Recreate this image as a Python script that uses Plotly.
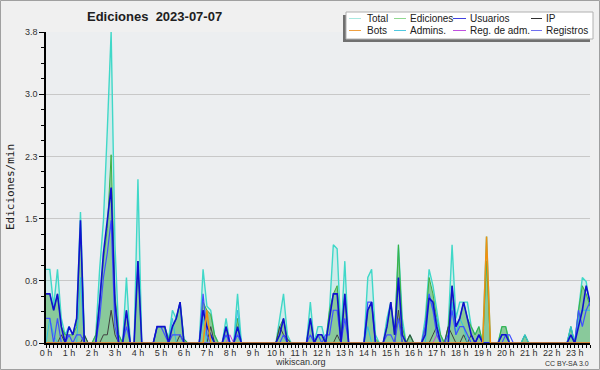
import plotly.graph_objects as go

# ---- data (10-minute samples, edits per minute) ----
minutes = list(range(0, 1430, 10))  # 00:00 .. 23:40
hour_ticks = list(range(24))
hour_labels = ["0 h", "1 h", "2 h", "3 h", "4 h", "5 h", "6 h", "7 h", "8 h", "9 h", "10 h", "11 h",
               "12 h", "13 h", "14 h", "15 h", "16 h", "17 h", "18 h", "19 h", "20 h", "21 h", "22 h", "23 h"]
y_tickvals = [0, 0.76, 1.52, 2.28, 3.04, 3.8]
y_ticktext = ["0.0", "0.8", "1.5", "2.3", "3.0", "3.8"]

total = [
    .9, .9, .45, .9, .3, .1,
    .2, .1, .3, 1.6, .1, 0,
    0, .1, .9, 1.5, 2.6, 3.8,
    1.2, .1, 0, .8, 0, 0,
    2.0, 0, 0, 0, 0, .2,
    .2, .2, .05, .4, .3, .5,
    .05, 0, 0, 0, 0, .9,
    .45, .4, .1, 0, 0, .3,
    0, 0, .6, 0, 0, 0,
    0, 0, 0, 0, 0, 0,
    0, .3, .6, .1, 0, 0,
    0, 0, 0, .5, 0, .2,
    .2, 0, .4, 1.2, 1.15, .1,
    1.0, 0, 0, 0, 0, 0,
    .8, .9, .1, 0, 0, .3,
    .5, .1, 1.2, .3, 0, .1,
    0, 0, 0, .3, .9, .7,
    .4, .1, 0, .2, 1.2, .3,
    .5, .5, .5, .2, .1, .2,
    0, 1.3, 0, 0, 0, .2,
    .2, 0, 0, 0, 0, .1,
    0, 0, 0, 0, 0, 0,
    0, 0, 0, 0, 0, .2,
    0, .4, .8, .75, .45,
]
ediciones = [
    .6, .6, .4, .6, .2, .1,
    .1, .1, .2, 1.4, .1, 0,
    0, .1, .5, 1.0, 1.4, 2.3,
    .6, .1, 0, .4, 0, 0,
    1.0, 0, 0, 0, 0, .2,
    .2, .2, .05, .2, .3, .5,
    .05, 0, 0, 0, 0, .5,
    .4, .35, .1, 0, 0, .2,
    0, 0, .3, 0, 0, 0,
    0, 0, 0, 0, 0, 0,
    0, .2, .3, .05, 0, 0,
    0, 0, 0, .3, 0, .1,
    .1, 0, .4, .6, .7, .1,
    .6, 0, 0, 0, 0, 0,
    .4, .5, .05, 0, 0, .2,
    .5, .1, 1.2, .2, 0, .1,
    0, 0, 0, .2, .8, .6,
    .3, .1, 0, .2, .7, .2,
    .3, .5, .3, .2, .1, .2,
    0, 1.0, 0, 0, 0, .2,
    .2, 0, 0, 0, 0, .1,
    0, 0, 0, 0, 0, 0,
    0, 0, 0, 0, 0, .2,
    0, .4, .7, .6, .45,
]
usuarios = [
    .6, .6, .4, .6, .2, 0,
    .2, .1, .3, 1.5, 0, 0,
    0, 0, .5, 1.1, 1.5, 1.9,
    .5, 0, 0, .4, 0, 0,
    1.0, 0, 0, 0, 0, .2,
    .2, .2, 0, .2, .3, .5,
    0, 0, 0, 0, 0, .4,
    .2, .1, 0, 0, 0, .2,
    0, 0, .2, 0, 0, 0,
    0, 0, 0, 0, 0, 0,
    0, .1, .3, 0, 0, 0,
    0, 0, 0, .3, 0, .1,
    .1, 0, .3, .6, .6, 0,
    .6, 0, 0, 0, 0, 0,
    .4, .5, 0, 0, 0, .2,
    .5, .1, .8, .1, 0, 0,
    0, 0, 0, .1, .55, .5,
    .2, 0, 0, 0, .7, .2,
    .3, .5, .3, .1, 0, .1,
    0, 0, 0, 0, 0, .1,
    .1, 0, 0, 0, 0, 0,
    0, 0, 0, 0, 0, 0,
    0, 0, 0, 0, 0, .1,
    0, .2, .4, .7, .5,
]
ip = [
    0, 0, 0, 0, .1, 0,
    0, 0, 0, 0, .1, 0,
    0, 0, 0, .1, .1, .4,
    .1, 0, 0, 0, 0, 0,
    0, 0, 0, 0, 0, 0,
    0, 0, 0, 0, 0, .1,
    0, 0, 0, 0, 0, 0,
    0, .2, 0, 0, 0, 0,
    0, 0, 0, 0, 0, 0,
    0, 0, 0, 0, 0, 0,
    0, .2, .1, .05, 0, 0,
    0, 0, 0, 0, 0, 0,
    0, 0, 0, 0, .1, 0,
    0, 0, 0, 0, 0, 0,
    0, 0, 0, 0, 0, 0,
    0, 0, .4, 0, 0, .1,
    0, 0, 0, 0, 0, .1,
    .2, 0, 0, .2, .1, 0,
    0, .1, 0, .1, 0, .1,
    0, 0, 0, 0, 0, 0,
    0, 0, 0, 0, 0, 0,
    0, 0, 0, 0, 0, 0,
    0, 0, 0, 0, 0, 0,
    0, 0, 0, 0, 0,
]
bots = [0] * 42 + [.4] + [0] * 72 + [1.3] + [0] * 27
admins = [
    0, .3, .1, 0, 0, 0,
    0, 0, 0, .8, 0, 0,
    0, 0, 0, 0, 0, 0,
    0, 0, 0, 0, 0, 0,
    0, 0, 0, 0, 0, 0,
    0, 0, 0, .3, 0, 0,
    0, 0, 0, 0, 0, .3,
    0, 0, 0, 0, 0, .1,
    0, 0, .4, 0, 0, 0,
    0, 0, 0, 0, 0, 0,
    0, 0, 0, 0, 0, 0,
    0, 0, 0, 0, 0, 0,
    0, 0, 0, 0, 0, 0,
    0, 0, 0, 0, 0, 0,
    .2, 0, 0, 0, 0, 0,
    0, 0, 0, 0, 0, 0,
    0, 0, 0, 0, .6, .4,
    .3, 0, 0, 0, .5, .1,
    .3, .2, 0, 0, 0, 0,
    0, 0, 0, 0, 0, .1,
    .1, 0, 0, 0, 0, .1,
    0, 0, 0, 0, 0, 0,
    0, 0, 0, 0, 0, .2,
    0, .3, .4, .4, .4,
]
reg_adm = [0] * 48 + [.1] + [0] * 53 + [.1] + [0] * 40
registros = [
    .3, .3, 0, .3, 0, 0,
    .1, 0, .1, .1, 0, 0,
    0, 0, .3, .8, 1.1, 1.5,
    .2, 0, 0, .2, 0, 0,
    0, 0, 0, 0, 0, .2,
    .2, .1, 0, .1, .1, .1,
    0, 0, 0, 0, 0, .6,
    .1, 0, 0, 0, 0, .1,
    0, 0, .1, 0, 0, 0,
    0, 0, 0, 0, 0, 0,
    0, 0, .1, 0, 0, 0,
    0, 0, 0, .1, 0, .1,
    0, .1, .1, .4, .4, 0,
    .3, 0, 0, 0, 0, 0,
    .5, .5, 0, 0, 0, .1,
    .1, 0, .3, 0, 0, 0,
    0, 0, 0, .2, .6, .4,
    .1, 0, 0, .1, .4, .1,
    .2, .2, .1, 0, 0, .1,
    0, 0, 0, 0, 0, 0,
    .1, .1, 0, 0, 0, 0,
    0, 0, 0, 0, 0, 0,
    0, 0, 0, 0, 0, 0,
    0, .4, .2, .4, .5,
]

legend_names = ["Total", "Ediciones", "Usuarios", "IP", "Bots", "Admins.", "Reg. de adm.", "Registros"]
legend_colors = ["#a8e8e0", "#90d890", "#4040e0", "#303030", "#f0a040", "#50c8e0", "#c050e0", "#7070f0"]

hours = [m / 60 for m in minutes]

W, H = 600, 370
L, R, T, B = 46, 10, 32, 27
PW, PH = W - L - R, H - T - B


def px(x):
    return (x - L) / PW


def py(y):
    return 1 - (y - T) / PH


fig = go.Figure()

fig.add_trace(go.Scatter(x=hours, y=total, mode="lines", fill="tozeroy",
                         fillcolor="rgba(64,224,208,0.16)",
                         line=dict(color="#40d8c8", width=1.4), hoverinfo="skip"))
fig.add_trace(go.Scatter(x=hours, y=ediciones, mode="lines", fill="tozeroy",
                         fillcolor="rgba(50,160,60,0.45)",
                         line=dict(color="#40b040", width=1), hoverinfo="skip"))
fig.add_trace(go.Scatter(x=hours, y=ip, mode="lines", line=dict(color="#404040", width=1), hoverinfo="skip"))
fig.add_trace(go.Scatter(x=hours, y=admins, mode="lines", line=dict(color="#30c0e0", width=1), hoverinfo="skip"))
fig.add_trace(go.Scatter(x=hours, y=reg_adm, mode="lines", line=dict(color="#c040e0", width=1), hoverinfo="skip"))
fig.add_trace(go.Scatter(x=hours, y=registros, mode="lines", line=dict(color="#4050ff", width=1.2), hoverinfo="skip"))
fig.add_trace(go.Scatter(x=hours, y=usuarios, mode="lines", line=dict(color="#1010d0", width=1.6), hoverinfo="skip"))
fig.add_trace(go.Scatter(x=hours, y=bots, mode="lines", line=dict(color="#f09010", width=1.5), hoverinfo="skip"))

shapes = []
annotations = []

# outer frame
shapes.append(dict(type="rect", xref="paper", yref="paper",
                   x0=px(0.5), x1=px(W - 0.5), y0=py(0.5), y1=py(H - 0.5),
                   line=dict(color="#a0a0a0", width=1), fillcolor="rgba(0,0,0,0)", layer="below"))

# legend box with shadow
shapes.append(dict(type="rect", xref="paper", yref="paper",
                   x0=px(343), x1=px(590), y0=py(15), y1=py(42),
                   line=dict(width=0), fillcolor="#707070", layer="above"))
shapes.append(dict(type="rect", xref="paper", yref="paper",
                   x0=px(346), x1=px(593), y0=py(12), y1=py(39),
                   line=dict(color="#b0b0b0", width=1), fillcolor="#ffffff", layer="above"))

col_sample = [(349, 361), (394, 406), (453, 466), (531, 542)]
col_text = [366, 409, 469, 545]
rows_y = [18.5, 30.5]
order = [(0, 0), (0, 1), (0, 2), (0, 3), (1, 0), (1, 1), (1, 2), (1, 3)]
for k, (r, c) in enumerate(order):
    yy = rows_y[r]
    shapes.append(dict(type="line", xref="paper", yref="paper",
                       x0=px(col_sample[c][0]), x1=px(col_sample[c][1]), y0=py(yy), y1=py(yy),
                       line=dict(color=legend_colors[k], width=1), layer="above"))
    annotations.append(dict(text=legend_names[k], xref="paper", yref="paper",
                            x=px(col_text[c]), y=py(yy), xanchor="left", yanchor="middle",
                            showarrow=False, borderpad=0,
                            font=dict(family="Liberation Sans", size=10, color="#202020")))

annotations.append(dict(text="<b>Ediciones  2023-07-07</b>", xref="paper", yref="paper",
                        x=px(154), y=py(16), xanchor="center", yanchor="middle", showarrow=False,
                        font=dict(family="Liberation Sans", size=13, color="#202020")))
annotations.append(dict(text="Ediciones/min", xref="paper", yref="paper", textangle=-90,
                        x=px(10), y=py(187), xanchor="center", yanchor="middle", showarrow=False,
                        font=dict(family="DejaVu Sans Mono", size=11, color="#202020")))
annotations.append(dict(text="wikiscan.org", xref="paper", yref="paper",
                        x=px(300), y=py(362), xanchor="center", yanchor="middle", showarrow=False,
                        font=dict(family="Liberation Sans", size=9, color="#303030")))
annotations.append(dict(text="CC BY-SA 3.0", xref="paper", yref="paper",
                        x=px(591), y=py(363), xanchor="right", yanchor="middle", showarrow=False,
                        font=dict(family="Liberation Sans", size=7, color="#303030")))

fig.update_layout(
    width=W, height=H,
    margin=dict(l=L, r=R, t=T, b=B, pad=0),
    paper_bgcolor="#f0f0f0",
    plot_bgcolor="#eceef0",
    showlegend=False,
    shapes=shapes,
    annotations=annotations,
    xaxis=dict(range=[0, 142 / 6], tickmode="array", tickvals=hour_ticks, ticktext=hour_labels,
               ticks="outside", ticklen=3, tickcolor="#000000", tickwidth=1,
               ticklabelstandoff=-3,
               showline=True, linecolor="#000000", linewidth=1.5, showgrid=False, zeroline=False,
               tickfont=dict(family="Liberation Sans", size=9, color="#303030"),
               minor=dict(dtick=1 / 6, tick0=0, ticks="outside", ticklen=3, tickcolor="#000000",
                          tickwidth=1, showgrid=False)),
    yaxis=dict(range=[0, 3.8], tickmode="array", tickvals=y_tickvals, ticktext=y_ticktext,
               ticks="outside", ticklen=5, tickcolor="#000000",
               showline=True, linecolor="#000000", linewidth=1.5,
               showgrid=True, gridcolor="#c8c8c8", gridwidth=1, zeroline=False,
               tickfont=dict(family="Liberation Sans", size=9, color="#303030"),
               minor=dict(dtick=0.19, tick0=0, ticks="outside", ticklen=3, tickcolor="#000000",
                          showgrid=False)),
)

fig.write_html("out.html", config={"displayModeBar": False},
               post_script="document.body.style.margin='0px';document.body.style.overflow='hidden';")
